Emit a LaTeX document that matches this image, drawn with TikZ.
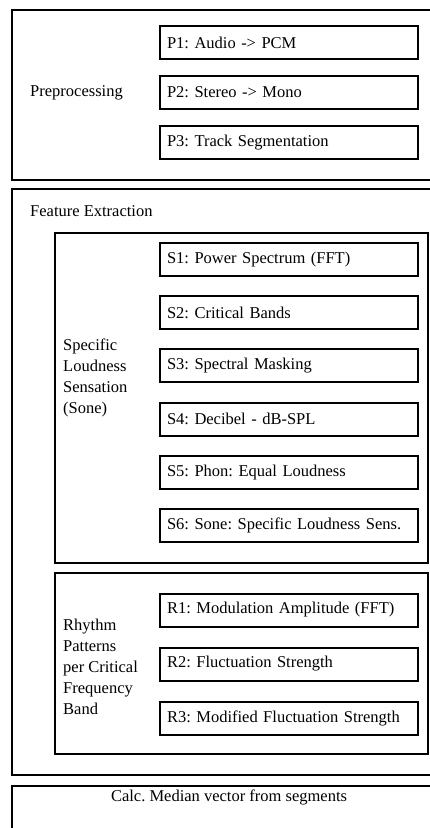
\documentclass[tikz,border=0pt]{standalone}
\usepackage{fontspec}
\setmainfont{Liberation Serif}
\frenchspacing
\usetikzlibrary{positioning}

\begin{document}
\begin{tikzpicture}[
  x=1pt,y=-1pt,
  stage/.style={draw,line width=2pt,outer sep=0pt,anchor=north west},
  group/.style={draw,line width=2pt,outer sep=0pt,anchor=north west},
  stepbox/.style={draw,line width=2pt,outer sep=0pt,minimum height=33pt,inner xsep=7pt,
    text width=244pt,align=left,anchor=west,font=\fontsize{16.5}{21}\selectfont},
  note/.style={inner sep=0pt,anchor=west,align=left,font=\fontsize{16.5}{21}\selectfont},
]
  \useasboundingbox (0,0) rectangle (430,828);
  \clip (0,0) rectangle (430,828);

  % Preprocessing
  \node[stage,minimum width=434pt,minimum height=170pt] (pre) at (12,10) {};
  \node[note] (prelbl) at (30,93) {Preprocessing};
  \node[stepbox] (p1) at (160,42.5) {P1: Audio -> PCM};
  \node[stepbox,below=17pt of p1] (p2) {P2: Stereo -> Mono};
  \node[stepbox,below=17pt of p2] (p3) {P3: Track Segmentation};

  % Feature extraction
  \node[stage,minimum width=434pt,minimum height=586pt] (feat) at (12,189) {};
  \node[note] (featlbl) at (30,211) {Feature Extraction};

  % Specific loudness sensation
  \node[group,minimum width=373.5pt,minimum height=330pt] (sone) at (54.5,233) {};
  \node[note] (sonelbl) at (63,378) {Specific\\Loudness\\Sensation\\(Sone)};
  \node[stepbox] (s1) at (160,259.2) {S1: Power Spectrum (FFT)};
  \node[stepbox,below=20.3pt of s1] (s2) {S2: Critical Bands};
  \node[stepbox,below=20.3pt of s2] (s3) {S3: Spectral Masking};
  \node[stepbox,below=20.3pt of s3] (s4) {S4: Decibel - dB-SPL};
  \node[stepbox,below=20.3pt of s4] (s5) {S5: Phon: Equal Loudness};
  \node[stepbox,below=20.3pt of s5] (s6) {S6: Sone: Specific Loudness Sens.};

  % Rhythm patterns
  \node[group,minimum width=373.5pt,minimum height=181pt] (rhythm) at (54.5,573) {};
  \node[note] (rhythmlbl) at (63,666.5) {Rhythm\\Patterns\\per Critical\\Frequency\\Band};
  \node[stepbox] (r1) at (160,610) {R1: Modulation Amplitude (FFT)};
  \node[stepbox,below=21pt of r1] (r2) {R2: Fluctuation Strength};
  \node[stepbox,below=21pt of r2] (r3) {R3: Modified Fluctuation Strength};

  % Median
  \node[stage,minimum width=434pt,minimum height=80pt] (post) at (12,786) {};
  \node[font=\fontsize{16.5}{21}\selectfont] (median) at (229,797) {Calc. Median vector from segments};
\end{tikzpicture}
\end{document}
